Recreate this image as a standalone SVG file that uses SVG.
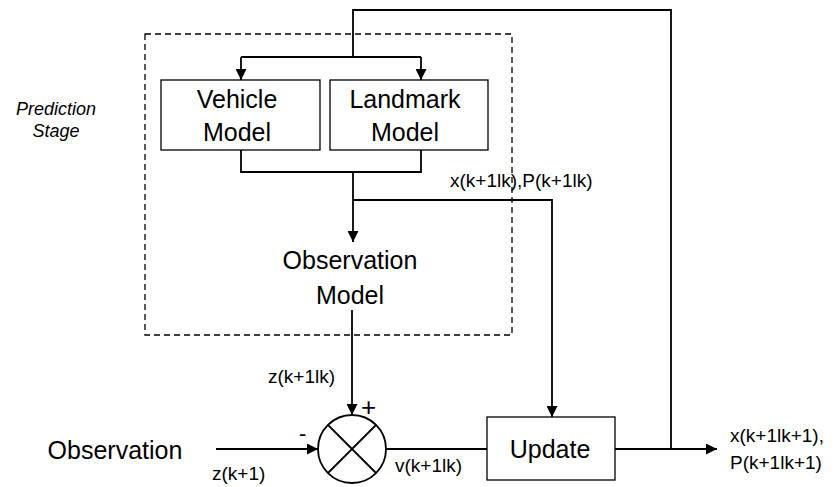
<svg xmlns="http://www.w3.org/2000/svg" width="834" height="487" viewBox="0 0 834 487">
<defs>
<marker id="ah" viewBox="0 0 10 10" refX="10" refY="5" markerWidth="11" markerHeight="11" markerUnits="userSpaceOnUse" orient="auto">
<path d="M0,0 L10,5 L0,10 z" fill="#000"/>
</marker>
</defs>
<style>
.box{fill:#fff;stroke:#000;stroke-width:1.3}
.ln{fill:none;stroke:#000;stroke-width:1.8}
.big{font-family:"Liberation Sans",Arial,sans-serif;font-size:25px;fill:#000;text-anchor:middle}
.sm{font-family:"Liberation Sans",Arial,sans-serif;font-size:19px;fill:#000}
.it{font-family:"Liberation Sans",Arial,sans-serif;font-size:18px;font-style:italic;fill:#000;text-anchor:middle}
</style>
<rect width="834" height="487" fill="#fff"/>

<g id="prediction-stage">
<rect x="145" y="34" width="367" height="301" fill="none" stroke="#000" stroke-width="1.3" stroke-dasharray="6,4"/>
<text class="it" x="56" y="115">Prediction</text>
<text class="it" x="56" y="137">Stage</text>
</g>

<g id="connectors">
<polyline class="ln" points="671,449 671,10 353,10 353,57"/>
<polyline class="ln" points="241,57 421,57"/>
<line class="ln" x1="241" y1="57" x2="241" y2="80" marker-end="url(#ah)"/>
<line class="ln" x1="421" y1="57" x2="421" y2="80" marker-end="url(#ah)"/>
<polyline class="ln" points="241,150 241,172 421,172 421,150"/>
<line class="ln" x1="353" y1="172" x2="353" y2="242" marker-end="url(#ah)"/>
<polyline class="ln" points="353,200 552,200 552,417" marker-end="url(#ah)"/>
<line class="ln" x1="352" y1="310" x2="352" y2="415" marker-end="url(#ah)"/>
<line class="ln" x1="216" y1="449" x2="318" y2="449" marker-end="url(#ah)"/>
<line class="ln" x1="386" y1="449" x2="487" y2="449"/>
<line class="ln" x1="615" y1="449" x2="717" y2="449" marker-end="url(#ah)"/>
<text class="sm" x="450" y="187">x(k+1lk),P(k+1lk)</text>
<text class="sm" x="268" y="383">z(k+1lk)</text>
<text class="sm" x="212" y="480">z(k+1)</text>
<text class="sm" x="395" y="472">v(k+1lk)</text>
<text class="sm" x="361" y="416" style="font-size:26px">+</text>
<text class="sm" x="299" y="441" style="font-size:22px">-</text>
</g>

<g id="vehicle-model">
<rect class="box" x="161" y="80" width="159" height="70"/>
<text class="big" x="237" y="108">Vehicle</text>
<text class="big" x="237" y="141">Model</text>
</g>

<g id="landmark-model">
<rect class="box" x="330" y="80" width="158" height="70"/>
<text class="big" x="405" y="108">Landmark</text>
<text class="big" x="405" y="141">Model</text>
</g>

<g id="observation-model">
<text class="big" x="350" y="269">Observation</text>
<text class="big" x="350" y="304">Model</text>
</g>

<g id="observation">
<text class="big" x="115" y="459">Observation</text>
</g>

<g id="sum">
<circle cx="352" cy="449" r="34" fill="#fff" stroke="#000" stroke-width="1.8"/>
<line class="ln" x1="328" y1="425" x2="376" y2="473"/>
<line class="ln" x1="376" y1="425" x2="328" y2="473"/>
</g>

<g id="update">
<rect class="box" x="487" y="417" width="128" height="63"/>
<text class="big" x="550" y="458">Update</text>
</g>

<g id="output">
<text class="sm" x="730" y="442">x(k+1lk+1),</text>
<text class="sm" x="730" y="469">P(k+1lk+1)</text>
</g>
</svg>
